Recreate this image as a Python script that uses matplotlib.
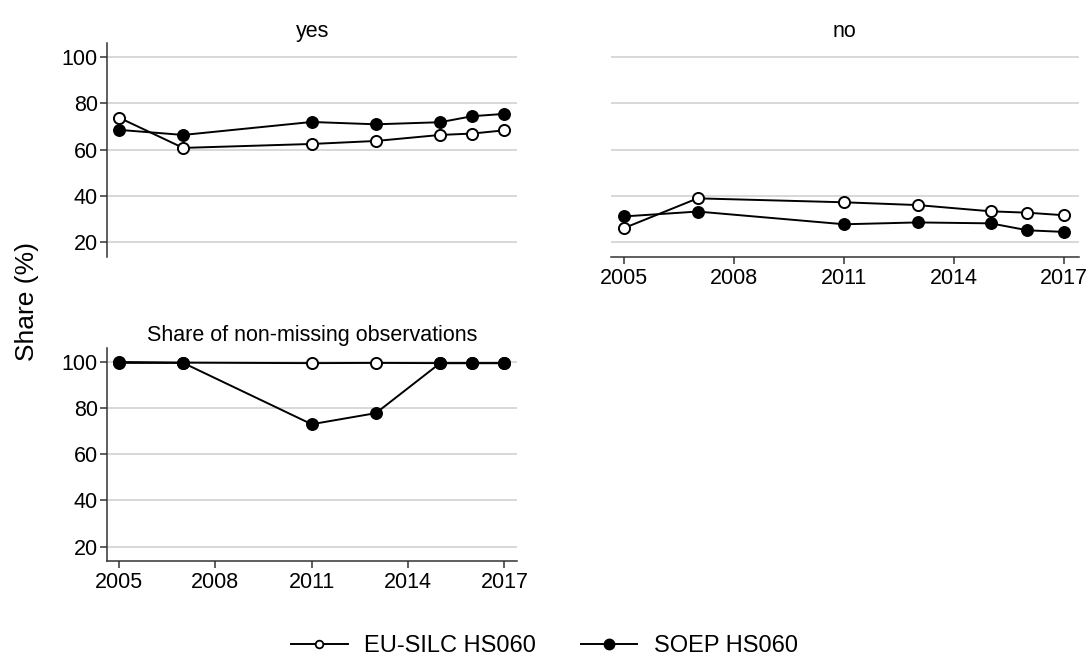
import matplotlib.pyplot as plt
from matplotlib.lines import Line2D

plt.rcParams["font.family"] = ["Liberation Sans", "DejaVu Sans"]

years = [2005, 2007, 2011, 2013, 2015, 2016, 2017]

# panel "yes"
silc_yes = [73.9, 60.8, 62.5, 63.8, 66.4, 67.0, 68.4]
soep_yes = [68.6, 66.4, 72.0, 71.0, 71.9, 74.5, 75.5]
# panel "no"
silc_no = [26.2, 39.0, 37.3, 36.1, 33.4, 32.8, 31.7]
soep_no = [31.2, 33.3, 27.8, 28.6, 28.2, 25.2, 24.5]
# share of non-missing observations
silc_nm = [99.8, 99.5, 99.3, 99.4, 99.3, 99.3, 99.3]
soep_nm = [99.4, 99.4, 72.9, 77.7, 99.3, 99.3, 99.3]

titles = ["yes", "no", "Share of non-missing observations"]
series_labels = ["EU-SILC HS060", "SOEP HS060"]
yticks = [20, 40, 60, 80, 100]
xticks = [2005, 2008, 2011, 2014, 2017]

fig = plt.figure(figsize=(10.91, 6.59), dpi=100)
ax1 = fig.add_axes([0.0981, 0.6105, 0.376, 0.3238])
ax2 = fig.add_axes([0.5598, 0.6105, 0.429, 0.3238])
ax3 = fig.add_axes([0.0981, 0.1487, 0.376, 0.3238])

open_kw = dict(color="black", lw=1.4, marker="o", ms=8, mfc="white", mec="black", mew=1.4)
fill_kw = dict(color="black", lw=1.4, marker="o", ms=8.3, mfc="black", mec="black")

data = [(silc_yes, soep_yes), (silc_no, soep_no), (silc_nm, soep_nm)]

for ax, title, (s1, s2) in zip([ax1, ax2, ax3], titles, data):
    ax.plot(years, s1, **open_kw, zorder=3)
    ax.plot(years, s2, **fill_kw, zorder=4)
    ax.set_xlim(2004.63, 2017.4)
    ax.set_ylim(13.8, 106)
    ax.set_yticks(yticks)
    ax.set_xticks(xticks)
    ax.grid(axis="y", color="#d6d6d6", lw=1.3)
    ax.set_axisbelow(True)
    ax.set_title(title, fontsize=15.5, pad=4.5)
    for s in ["top", "right"]:
        ax.spines[s].set_visible(False)
    for s in ["left", "bottom"]:
        ax.spines[s].set_color("#333333")
        ax.spines[s].set_linewidth(1.1)
    ax.tick_params(labelsize=15.5, length=5, width=1.1, color="#333333", direction="out")
    ax.tick_params(axis="y", pad=1.5)
    ax.tick_params(axis="x", pad=3)

# yes: no x axis
ax1.spines["bottom"].set_visible(False)
ax1.tick_params(axis="x", bottom=False, labelbottom=False)
# no: no y axis
ax2.spines["left"].set_visible(False)
ax2.tick_params(axis="y", left=False, labelleft=False)

fig.text(0.025, 0.542, "Share (%)", rotation=90, fontsize=19,
         ha="center", va="center")

handles = [
    Line2D([], [], color="black", lw=1.4, marker="o", ms=5.5, mfc="white", mec="black", mew=1.3),
    Line2D([], [], color="black", lw=1.4, marker="o", ms=7.5, mfc="black", mec="black"),
]
fig.legend(handles, series_labels, loc="center", bbox_to_anchor=(0.499, 0.02),
           ncol=2, frameon=False, fontsize=17, handlelength=2.4,
           handletextpad=0.7, columnspacing=1.9)

fig.savefig("out.png", dpi=100, facecolor="white")
